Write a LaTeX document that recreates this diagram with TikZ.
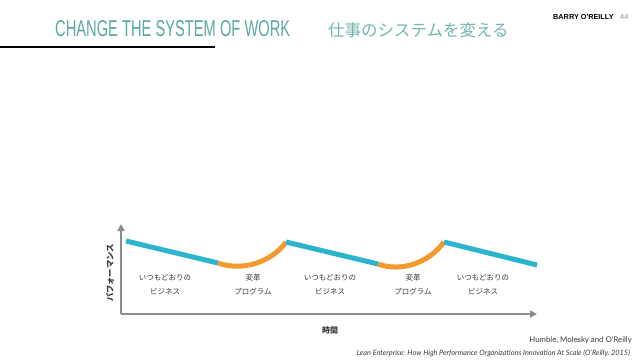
\documentclass[tikz,border=0pt]{standalone}
\usepackage{fontspec}
\usetikzlibrary{arrows.meta}
\setmainfont{Lato}
\newfontfamily\jpfont{Noto Sans CJK JP}
\newfontfamily\titlefont{Liberation Sans}
\newfontfamily\heavyfont{Liberation Sans}
\definecolor{teal1}{HTML}{5AA9A2}
\definecolor{blue1}{HTML}{2BB4CC}
\definecolor{orange1}{HTML}{F29A2E}
\definecolor{axisgray}{HTML}{8C8C8C}
\definecolor{txtgray}{HTML}{3A3A3A}
\begin{document}
\begin{tikzpicture}[x=1pt,y=-1pt,
  perf/.style={line width=5pt,line cap=butt,line join=round},
  axisline/.style={axisgray,line width=1.6pt,-{Triangle[length=7pt,width=7pt]}},
  lbl/.style={font=\jpfont\fontsize{7.5}{14}\selectfont,text=txtgray,align=center,inner sep=0pt},
  ]
\useasboundingbox (0,0) rectangle (640,360);
\fill[white] (0,0) rectangle (640,360);
% header
\node[anchor=base west,inner sep=0pt,text=teal1] (title) at (55,36)
  {\resizebox{235pt}{16pt}{\titlefont\fontsize{25}{25}\selectfont CHANGE THE SYSTEM OF WORK}};
\node[anchor=base west,inner sep=0pt,text=teal1!85] (jtitle) at (328,36)
  {\jpfont\fontsize{16.5}{16.5}\selectfont 仕事のシステムを変える};
\coordinate (ulA) at (0,47);
\coordinate (ulB) at (215,47);
\draw[black,line width=2pt] (ulA) -- (ulB);
\node[anchor=base west,inner sep=0pt] (author) at (553,19)
  {\heavyfont\bfseries\fontsize{7.3}{7.3}\selectfont BARRY O'REILLY};
\node[anchor=base west,inner sep=0pt,text=axisgray] (page) at (620,19)
  {\heavyfont\fontsize{7.3}{7.3}\selectfont 44};
% axes
\coordinate (origin) at (121,314);
\coordinate (ytip) at (121,224);
\coordinate (xtip) at (537,314);
\draw[axisline] (origin) -- (ytip);
\draw[axisline] (origin) -- (xtip);
% performance curve
\coordinate (p1) at (126,241);
\coordinate (p2) at (218,263);
\coordinate (p3) at (286,242);
\coordinate (p4) at (378,264);
\coordinate (p5) at (444,242);
\coordinate (p6) at (537,265);
\draw[perf,orange1] (p2) .. controls (240,271) and (270,264) .. (p3);
\draw[perf,orange1] (p4) .. controls (400,272) and (428,264) .. (p5);
\draw[perf,blue1] (p1) -- (p2);
\draw[perf,blue1] (p3) -- (p4);
\draw[perf,blue1] (p5) -- (p6);
% labels
\node[lbl] (b1) at (165,285) {いつもどおりの\\ビジネス};
\node[lbl] (c1) at (253,285) {変革\\プログラム};
\node[lbl] (b2) at (330,285) {いつもどおりの\\ビジネス};
\node[lbl] (c2) at (413,285) {変革\\プログラム};
\node[lbl] (b3) at (483,285) {いつもどおりの\\ビジネス};
\node[rotate=90,inner sep=0pt,text=txtgray,font=\jpfont\bfseries\fontsize{8.3}{8.3}\selectfont] (ylab) at (110,273) {パフォーマンス};
\node[inner sep=0pt,text=txtgray,font=\jpfont\bfseries\fontsize{8}{8}\selectfont] (xlab) at (330,330) {時間};
% source
\node[anchor=base east,inner sep=0pt,text=txtgray,font=\fontsize{7.8}{7.8}\selectfont] (src1) at (632,342) {Humble, Molesky and O'Reilly};
\node[anchor=base east,inner sep=0pt,text=txtgray,font=\itshape\fontsize{7.3}{7.3}\selectfont] (src2) at (630,355) {Lean Enterprise: How High Performance Organizations Innovation At Scale (O'Reilly, 2015)};
\end{tikzpicture}
\end{document}
